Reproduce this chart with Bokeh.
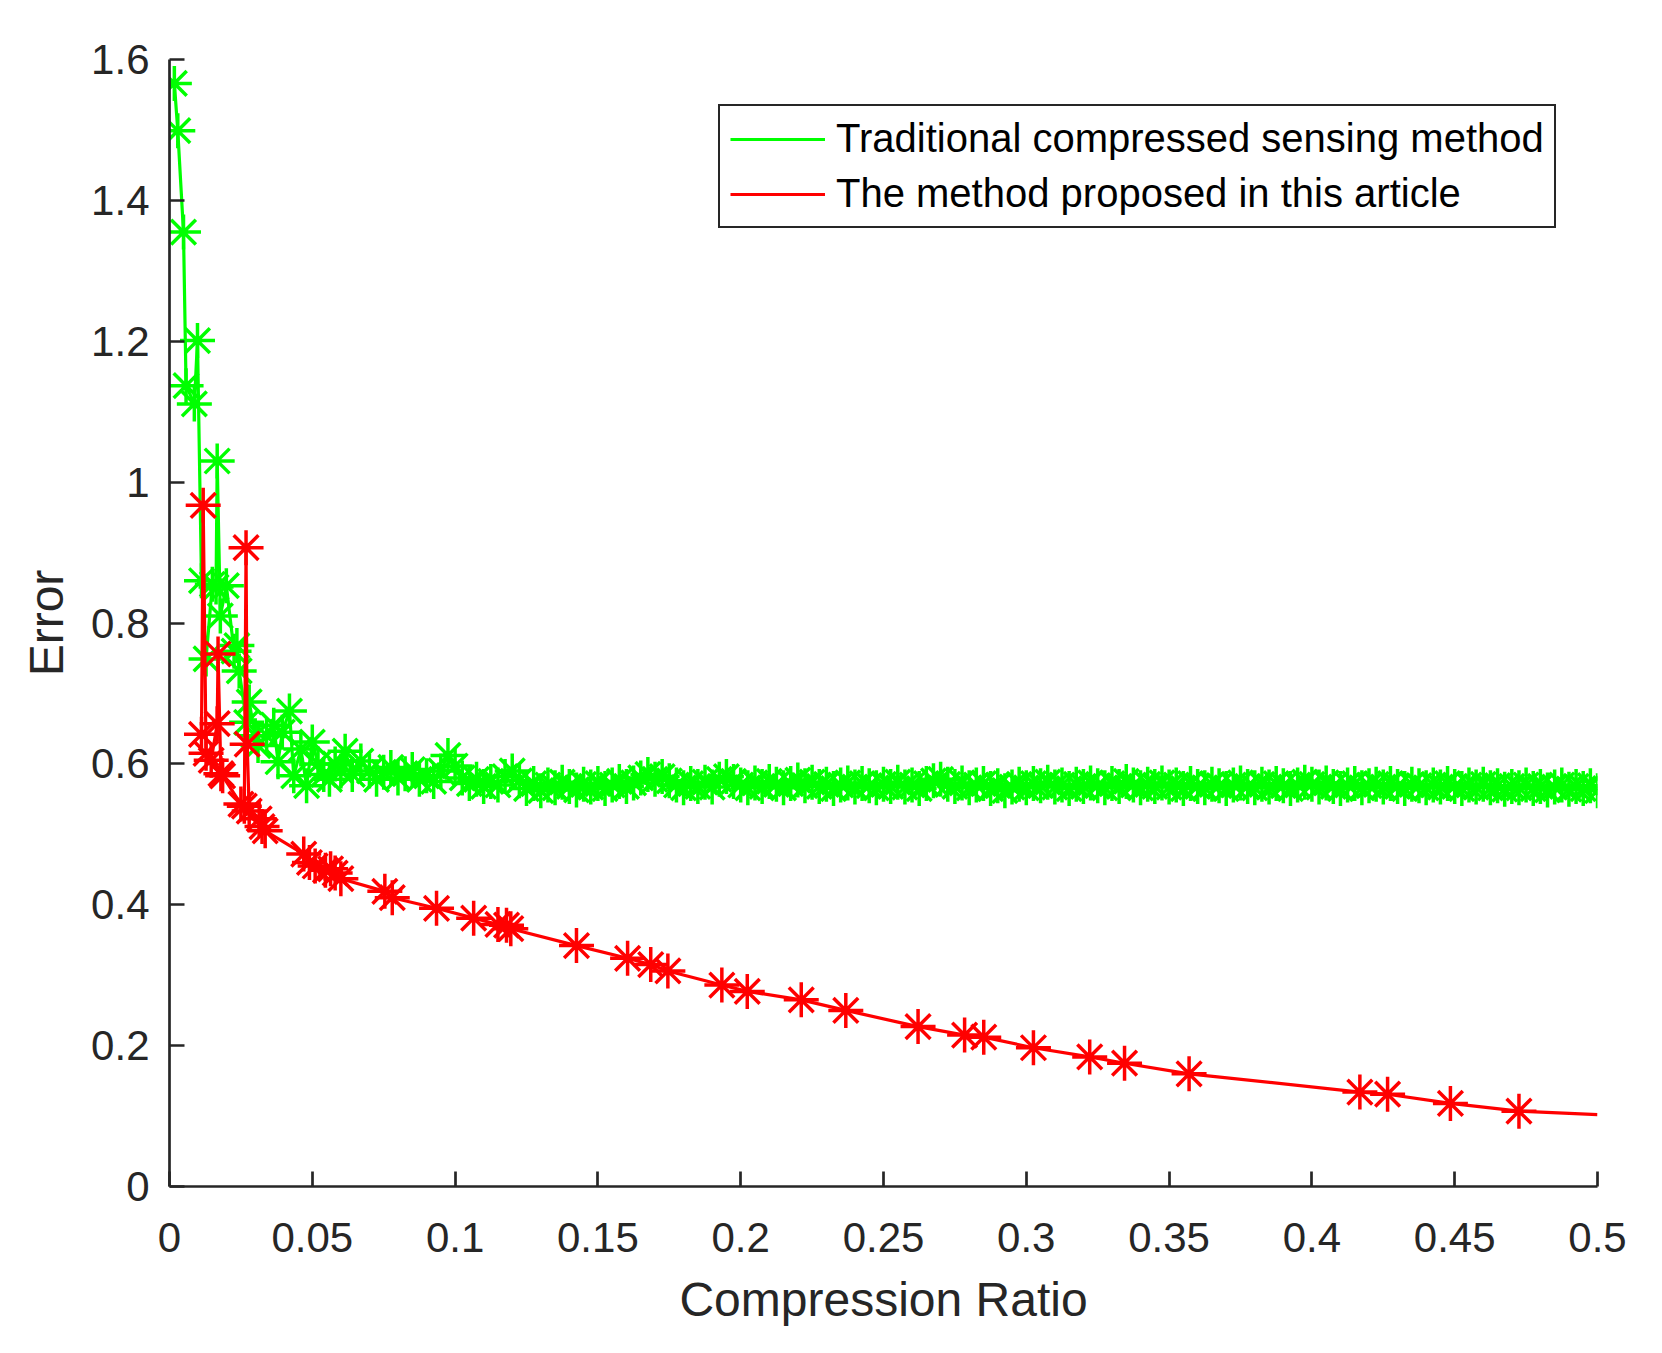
from bokeh.models import Range1d, FixedTicker
from bokeh.plotting import figure
from bokeh.embed import file_html
from bokeh.resources import INLINE

# early part of the traditional CS curve (sorted by ratio)
trad_x_start = [0.0017, 0.0029, 0.0049, 0.0058, 0.0087, 0.0098, 0.0112, 0.0128, 0.0150, 0.0163,
                0.0167, 0.0178, 0.0199, 0.0226, 0.0236, 0.0244, 0.0270, 0.0279, 0.0300, 0.0310,
                0.0340, 0.0365, 0.0380, 0.0395, 0.0420, 0.0435, 0.0460, 0.0480, 0.0500, 0.0520,
                0.0540, 0.0560, 0.0580, 0.0600, 0.0615, 0.0640, 0.0670, 0.0700, 0.0725]
trad_err_start = [1.566, 1.499, 1.355, 1.137, 1.111, 1.201, 0.860, 0.749, 0.855, 0.851,
                  1.030, 0.810, 0.853, 0.760, 0.768, 0.732, 0.659, 0.688, 0.640, 0.626,
                  0.640, 0.655, 0.603, 0.645, 0.675, 0.583, 0.621, 0.569, 0.631, 0.600,
                  0.585, 0.578, 0.600, 0.590, 0.618, 0.585, 0.604, 0.590, 0.578]

# flat part of the traditional CS curve
trad_x_flat = [
    0.075, 0.0775, 0.08, 0.0825, 0.085, 0.0875, 0.09, 0.0925, 0.095, 0.0975,
    0.1, 0.1025, 0.105, 0.1075, 0.11, 0.1125, 0.115, 0.1175, 0.12, 0.1225,
    0.125, 0.1275, 0.13, 0.1325, 0.135, 0.1375, 0.14, 0.1425, 0.145, 0.1475,
    0.15, 0.1525, 0.155, 0.1575, 0.16, 0.1625, 0.165, 0.1675, 0.17, 0.1725,
    0.175, 0.1775, 0.18, 0.1825, 0.185, 0.1875, 0.19, 0.1925, 0.195, 0.1975,
    0.2, 0.2025, 0.205, 0.2075, 0.21, 0.2125, 0.215, 0.2175, 0.22, 0.2225,
    0.225, 0.2275, 0.23, 0.2325, 0.235, 0.2375, 0.24, 0.2425, 0.245, 0.2475,
    0.25, 0.2525, 0.255, 0.2575, 0.26, 0.2625, 0.265, 0.2675, 0.27, 0.2725,
    0.275, 0.2775, 0.28, 0.2825, 0.285, 0.2875, 0.29, 0.2925, 0.295, 0.2975,
    0.3, 0.3025, 0.305, 0.3075, 0.31, 0.3125, 0.315, 0.3175, 0.32, 0.3225,
    0.325, 0.3275, 0.33, 0.3325, 0.335, 0.3375, 0.34, 0.3425, 0.345, 0.3475,
    0.35, 0.3525, 0.355, 0.3575, 0.36, 0.3625, 0.365, 0.3675, 0.37, 0.3725,
    0.375, 0.3775, 0.38, 0.3825, 0.385, 0.3875, 0.39, 0.3925, 0.395, 0.3975,
    0.4, 0.4025, 0.405, 0.4075, 0.41, 0.4125, 0.415, 0.4175, 0.42, 0.4225,
    0.425, 0.4275, 0.43, 0.4325, 0.435, 0.4375, 0.44, 0.4425, 0.445, 0.4475,
    0.45, 0.4525, 0.455, 0.4575, 0.46, 0.4625, 0.465, 0.4675, 0.47, 0.4725,
    0.475, 0.4775, 0.48, 0.4825, 0.485, 0.4875, 0.49, 0.4925, 0.495, 0.4975,
    0.5]
trad_err_flat = [
    0.588, 0.595, 0.580, 0.586, 0.592, 0.578, 0.583, 0.575, 0.590, 0.612,
    0.597, 0.580, 0.572, 0.578, 0.568, 0.575, 0.570, 0.582, 0.590, 0.576,
    0.565, 0.572, 0.562, 0.570, 0.566, 0.574, 0.568, 0.563, 0.571, 0.567,
    0.572, 0.565, 0.570, 0.575, 0.568, 0.573, 0.580, 0.585, 0.578, 0.582,
    0.576, 0.570, 0.566, 0.572, 0.568, 0.574, 0.567, 0.578, 0.582, 0.575,
    0.570, 0.566, 0.573, 0.568, 0.575, 0.571, 0.566, 0.572, 0.577, 0.569,
    0.574, 0.568, 0.571, 0.565, 0.570, 0.573, 0.567, 0.572, 0.569, 0.566,
    0.571, 0.568, 0.574, 0.567, 0.570, 0.565, 0.572, 0.576, 0.578, 0.571,
    0.568, 0.573, 0.566, 0.570, 0.572, 0.565, 0.569, 0.562, 0.567, 0.571,
    0.566, 0.572, 0.569, 0.574, 0.567, 0.570, 0.565, 0.571, 0.568, 0.573,
    0.569, 0.566, 0.572, 0.568, 0.575, 0.570, 0.566, 0.571, 0.568, 0.573,
    0.567, 0.570, 0.565, 0.572, 0.568, 0.566, 0.571, 0.569, 0.565, 0.570,
    0.573, 0.568, 0.566, 0.571, 0.567, 0.572, 0.569, 0.565, 0.570, 0.574,
    0.571, 0.567, 0.573, 0.568, 0.565, 0.570, 0.572, 0.566, 0.569, 0.571,
    0.567, 0.572, 0.568, 0.565, 0.571, 0.569, 0.566, 0.570, 0.567, 0.572,
    0.568, 0.565, 0.570, 0.567, 0.571, 0.566, 0.569, 0.564, 0.568, 0.566,
    0.570, 0.565, 0.568, 0.563, 0.567, 0.570, 0.564, 0.568, 0.565, 0.569,
    0.562]

# proposed method: sampled points
prop_x = [0.0112, 0.0118, 0.0128, 0.0146, 0.0167, 0.0170, 0.0180, 0.0186, 0.0250, 0.0262,
          0.0268, 0.0272, 0.0279, 0.0314, 0.0324, 0.0335, 0.0470, 0.0490, 0.0510, 0.0546,
          0.0564, 0.0580, 0.0600, 0.0754, 0.0780, 0.0935, 0.1065, 0.1150, 0.1180, 0.1195,
          0.1425, 0.1604, 0.1685, 0.1745, 0.1934, 0.2023, 0.2212, 0.2368, 0.2621, 0.2784,
          0.2851, 0.3025, 0.3222, 0.3344, 0.3570, 0.4168, 0.4265, 0.4485, 0.4725]
prop_err = [0.642, 0.967, 0.615, 0.605, 0.657, 0.756, 0.586, 0.583, 0.543, 0.540,
            0.907, 0.628, 0.533, 0.522, 0.511, 0.505, 0.472, 0.460, 0.455, 0.449,
            0.451, 0.445, 0.437, 0.419, 0.410, 0.395, 0.381, 0.372, 0.371, 0.366,
            0.342, 0.324, 0.315, 0.306, 0.286, 0.277, 0.265, 0.250, 0.227, 0.215,
            0.212, 0.197, 0.184, 0.175, 0.160, 0.134, 0.131, 0.118, 0.107]
# the curve runs on to the end of the axis without a marker
prop_end_x = [0.5]
prop_end_err = [0.102]

x_ticks = [0, 0.05, 0.1, 0.15, 0.2, 0.25, 0.3, 0.35, 0.4, 0.45, 0.5]
x_tick_labels = ["0", "0.05", "0.1", "0.15", "0.2", "0.25", "0.3", "0.35", "0.4", "0.45", "0.5"]
y_ticks = [0, 0.2, 0.4, 0.6, 0.8, 1.0, 1.2, 1.4, 1.6]
y_tick_labels = ["0", "0.2", "0.4", "0.6", "0.8", "1", "1.2", "1.4", "1.6"]

FONT = "Liberation Sans"
AX = "#262626"
GREEN = "#00ff00"
RED = "#ff0000"

p = figure(width=1646, height=1337, output_backend="svg", toolbar_location=None,
           x_range=Range1d(0, 0.5), y_range=Range1d(0, 1.6),
           min_border_left=169, min_border_right=49, min_border_top=59, min_border_bottom=151)
p.outline_line_color = None
p.xgrid.visible = False
p.ygrid.visible = False

trad_x = trad_x_start + trad_x_flat
trad_err = trad_err_start + trad_err_flat
p.line(trad_x, trad_err, line_color=GREEN, line_width=3.2, legend_label="Traditional compressed sensing method")
p.scatter(trad_x, trad_err, marker="asterisk", size=35, line_color=GREEN, line_width=3.5)

p.line(prop_x + prop_end_x, prop_err + prop_end_err, line_color=RED, line_width=3.2,
       legend_label="The method proposed in this article")
p.scatter(prop_x, prop_err, marker="asterisk", size=35, line_color=RED, line_width=3.5)

for ax, ticks, labels in ((p.xaxis, x_ticks, x_tick_labels), (p.yaxis, y_ticks, y_tick_labels)):
    ax.ticker = FixedTicker(ticks=ticks)
    ax.major_label_overrides = {t: l for t, l in zip(ticks, labels)}
    ax.minor_tick_line_color = None
    ax.major_tick_in = 15
    ax.major_tick_out = 0
    ax.major_tick_line_width = 2.7
    ax.major_tick_line_color = AX
    ax.axis_line_width = 2.7
    ax.axis_line_color = AX
    ax.major_label_text_font = FONT
    ax.major_label_text_font_size = "42px"
    ax.major_label_text_color = AX
    ax.axis_label_text_font = FONT
    ax.axis_label_text_font_size = "48px"
    ax.axis_label_text_font_style = "normal"
    ax.axis_label_text_color = AX

p.xaxis.axis_label = "Compression Ratio"
p.yaxis.axis_label = "Error"
p.xaxis.major_label_standoff = 36
p.xaxis.axis_label_standoff = 18
p.yaxis.major_label_standoff = 20
p.yaxis.axis_label_standoff = 15

leg = p.legend[0]
leg.location = (549, 958)
leg.label_text_font = FONT
leg.label_text_font_size = "40px"
leg.label_text_color = "black"
leg.border_line_color = AX
leg.border_line_alpha = 1.0
leg.border_line_width = 2.7
leg.padding = 10
leg.margin = 0
leg.spacing = 10
leg.label_height = 40
leg.glyph_height = 40
leg.glyph_width = 95
leg.label_standoff = 11
leg.background_fill_color = "white"
leg.background_fill_alpha = 1.0

open("out.html", "w").write(file_html(p, INLINE))
